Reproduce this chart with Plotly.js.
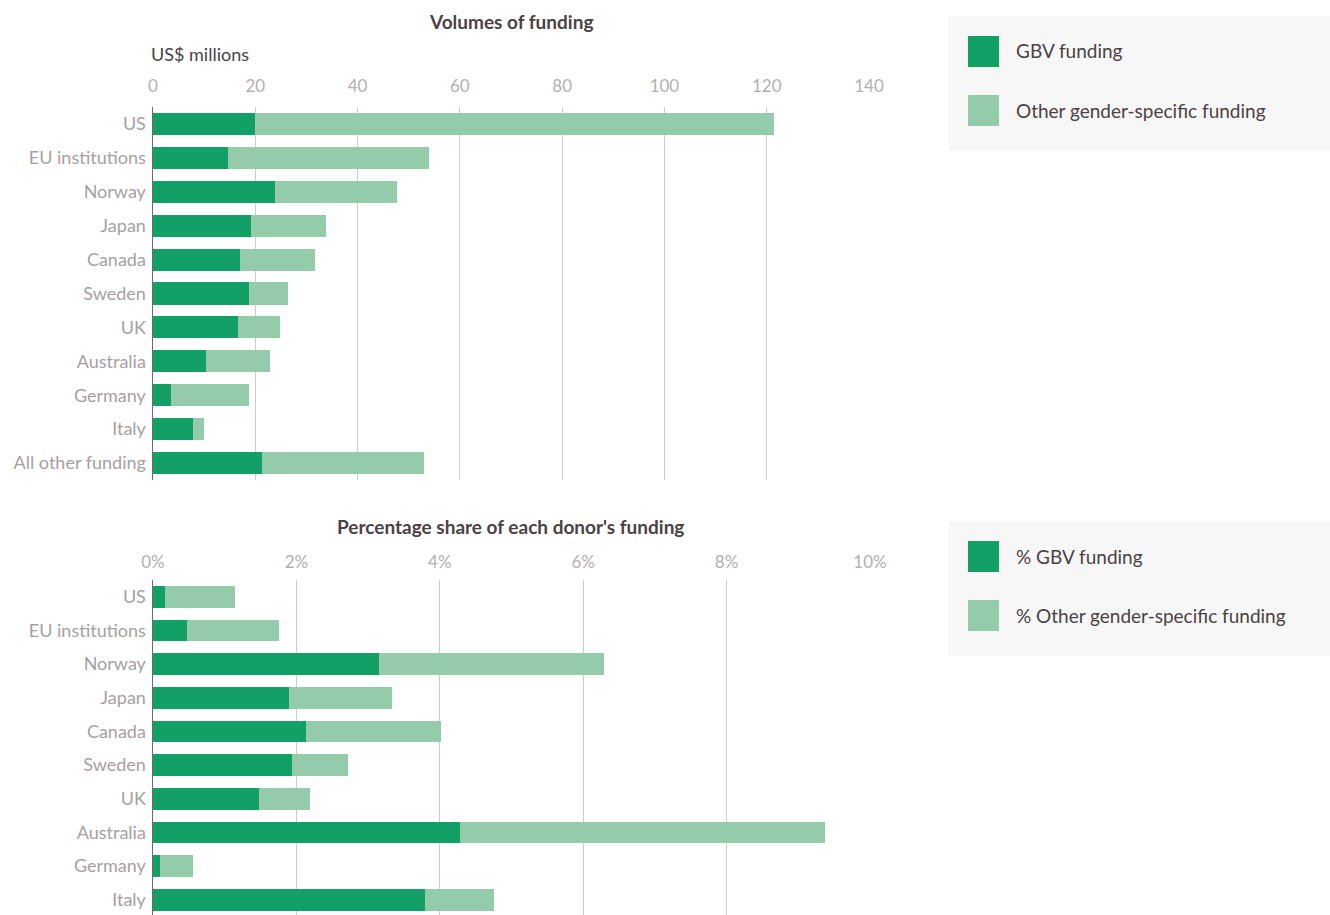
<!DOCTYPE html>
<html>
<head>
<meta charset="utf-8">
<script src="https://cdn.plot.ly/plotly-3.0.1.min.js"></script>
<style>html,body{margin:0;padding:0;background:#fff;}#chart{width:1330px;height:915px;}</style>
</head>
<body>
<div id="chart"></div>
<script>
// ---- data ----
const donorsVolume = ['US','EU institutions','Norway','Japan','Canada','Sweden','UK','Australia','Germany','Italy','All other funding'];
const gbvVolume   = [20.0,14.6,23.8,19.2,17.1,18.7,16.7,10.4,3.6,7.9,21.4];
const otherVolume = [101.4,39.3,24.0,14.7,14.6,7.6,8.2,12.5,15.2,2.1,31.5];

const donorsShare = ['US','EU institutions','Norway','Japan','Canada','Sweden','UK','Australia','Germany','Italy'];
const gbvShare   = [0.17,0.48,3.15,1.90,2.13,1.94,1.48,4.28,0.10,3.79];
const otherShare = [0.97,1.28,3.14,1.44,1.88,0.78,0.71,5.09,0.46,0.97];

const volumeTicks = [0,20,40,60,80,100,120,140];
const shareTicks = [0,2,4,6,8,10];
const shareTickText = ['0%','2%','4%','6%','8%','10%'];

const legendVolume = ['GBV funding','Other gender-specific funding'];
const legendShare = ['% GBV funding','% Other gender-specific funding'];

// ---- styling ----
const W = 1330, H = 915;
const DARK = '#12a067', LIGHT = '#94cbaa';
const FONT = 'Lato, "Open Sans", sans-serif';
const px = x => x / W;
const py = y => 1 - y / H;

const traces = [
  {type:'bar', orientation:'h', y:donorsVolume, x:gbvVolume, marker:{color:DARK}, xaxis:'x', yaxis:'y', name:legendVolume[0]},
  {type:'bar', orientation:'h', y:donorsVolume, x:otherVolume, marker:{color:LIGHT}, xaxis:'x', yaxis:'y', name:legendVolume[1]},
  {type:'bar', orientation:'h', y:donorsShare, x:gbvShare, marker:{color:DARK}, xaxis:'x2', yaxis:'y2', name:legendShare[0]},
  {type:'bar', orientation:'h', y:donorsShare, x:otherShare, marker:{color:LIGHT}, xaxis:'x2', yaxis:'y2', name:legendShare[1]}
];

const xCommon = {
  side:'top', showgrid:true, gridcolor:'#cccccc', gridwidth:1, zeroline:false,
  ticks:'', showline:false, fixedrange:true,
  tickfont:{family:FONT, size:17, color:'#b3afb0'}
};
const yCommon = {
  type:'category', showgrid:false, zeroline:false, ticks:'',
  showline:true, linecolor:'#6e6a6b', linewidth:1.5,
  tickfont:{family:FONT, size:18, color:'#a5a1a2'}, ticklabelstandoff:2, fixedrange:true
};

const layout = {
  width:W, height:H, margin:{l:0,r:0,t:0,b:0},
  paper_bgcolor:'#ffffff', plot_bgcolor:'rgba(0,0,0,0)',
  barmode:'stack', bargap:0.35, showlegend:false,
  font:{family:FONT},
  xaxis: Object.assign({}, xCommon, {domain:[px(153), px(869)], range:[0,140], tickmode:'array', tickvals:volumeTicks, anchor:'y', ticklabelstandoff:11}),
  yaxis: Object.assign({}, yCommon, {domain:[py(480), py(107)], range:[10.5,-0.5], anchor:'x'}),
  xaxis2: Object.assign({}, xCommon, {domain:[px(153), px(870)], range:[0,10], tickmode:'array', tickvals:shareTicks, ticktext:shareTickText, anchor:'y2', ticklabelstandoff:8}),
  yaxis2: Object.assign({}, yCommon, {domain:[0, py(580)], range:[9.45,-0.5], anchor:'x2'}),
  shapes:[
    {type:'rect', xref:'paper', yref:'paper', x0:px(949), x1:1, y0:py(151), y1:py(16), fillcolor:'#f7f7f7', line:{width:0}, layer:'below'},
    {type:'rect', xref:'paper', yref:'paper', x0:px(949), x1:1, y0:py(656), y1:py(521), fillcolor:'#f7f7f7', line:{width:0}, layer:'below'},
    {type:'rect', xref:'paper', yref:'paper', x0:px(968), x1:px(999), y0:py(67), y1:py(36), fillcolor:DARK, line:{width:0}},
    {type:'rect', xref:'paper', yref:'paper', x0:px(968), x1:px(999), y0:py(126), y1:py(95), fillcolor:LIGHT, line:{width:0}},
    {type:'rect', xref:'paper', yref:'paper', x0:px(968), x1:px(999), y0:py(572), y1:py(541), fillcolor:DARK, line:{width:0}},
    {type:'rect', xref:'paper', yref:'paper', x0:px(968), x1:px(999), y0:py(631), y1:py(600), fillcolor:LIGHT, line:{width:0}}
  ],
  annotations:[
    {xref:'paper', yref:'paper', x:px(511), y:py(22), text:'<b>Volumes of funding</b>', showarrow:false, xanchor:'center', yanchor:'middle', font:{family:FONT, size:19, color:'#4a4245'}},
    {xref:'paper', yref:'paper', x:px(149), y:py(54), text:'US$ millions', showarrow:false, xanchor:'left', yanchor:'middle', font:{family:FONT, size:18, color:'#4a4245'}},
    {xref:'paper', yref:'paper', x:px(511), y:py(526), text:"<b>Percentage share of each donor's funding</b>", showarrow:false, xanchor:'center', yanchor:'middle', font:{family:FONT, size:19, color:'#4a4245'}},
    {xref:'paper', yref:'paper', x:px(1014), y:py(51), text:legendVolume[0], showarrow:false, xanchor:'left', yanchor:'middle', font:{family:FONT, size:19, color:'#4a4245'}},
    {xref:'paper', yref:'paper', x:px(1014), y:py(110), text:legendVolume[1], showarrow:false, xanchor:'left', yanchor:'middle', font:{family:FONT, size:19, color:'#4a4245'}},
    {xref:'paper', yref:'paper', x:px(1014), y:py(556), text:legendShare[0], showarrow:false, xanchor:'left', yanchor:'middle', font:{family:FONT, size:19, color:'#4a4245'}},
    {xref:'paper', yref:'paper', x:px(1014), y:py(615), text:legendShare[1], showarrow:false, xanchor:'left', yanchor:'middle', font:{family:FONT, size:19, color:'#4a4245'}}
  ]
};

Plotly.newPlot('chart', traces, layout, {displayModeBar:false, staticPlot:true});
</script>
</body>
</html>
